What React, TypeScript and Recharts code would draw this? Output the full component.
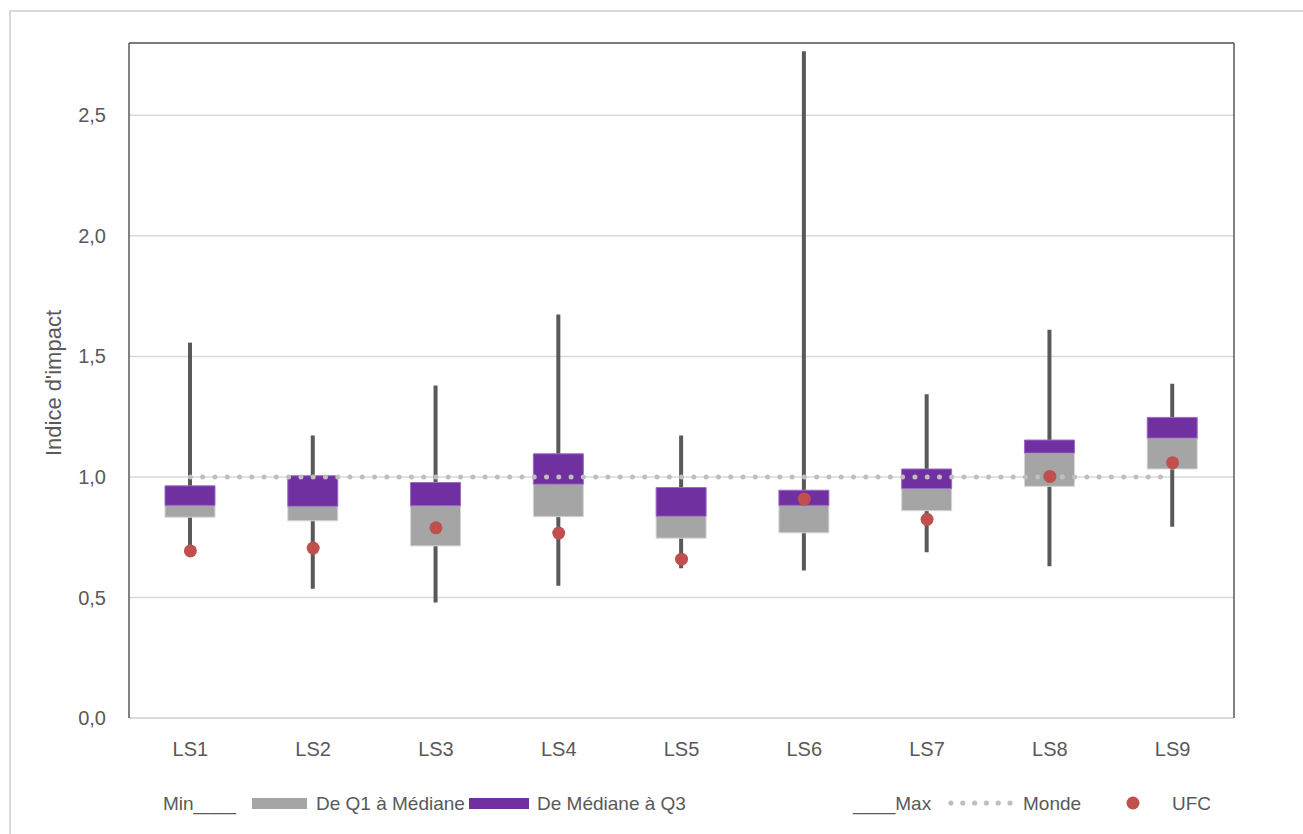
import React from 'react';
import {
  ComposedChart, Bar, Line, XAxis, YAxis, CartesianGrid, ReferenceLine,
} from 'recharts';

const categories = ['LS1', 'LS2', 'LS3', 'LS4', 'LS5', 'LS6', 'LS7', 'LS8', 'LS9'];
const minVals = [0.69, 0.536, 0.479, 0.549, 0.621, 0.612, 0.688, 0.63, 0.793];
const q1Vals = [0.833, 0.818, 0.714, 0.835, 0.746, 0.768, 0.86, 0.961, 1.033];
const medianVals = [0.882, 0.878, 0.88, 0.97, 0.837, 0.882, 0.952, 1.099, 1.161];
const q3Vals = [0.963, 1.005, 0.977, 1.096, 0.956, 0.945, 1.033, 1.153, 1.247];
const maxVals = [1.557, 1.172, 1.379, 1.674, 1.172, 2.766, 1.343, 1.611, 1.387];
const mondeVals = [1, 1, 1, 1, 1, 1, 1, 1, 1];
const ufcVals = [0.693, 0.705, 0.789, 0.767, 0.659, 0.908, 0.824, 1.002, 1.059];
const yTicks = [0, 0.5, 1, 1.5, 2, 2.5];

const data = categories.map((name, i) => ({
  name,
  whisker: [minVals[i], maxVals[i]],
  base: q1Vals[i],
  lowBox: medianVals[i] - q1Vals[i],
  highBox: q3Vals[i] - medianVals[i],
  monde: mondeVals[i],
  ufc: ufcVals[i],
}));

const FONT = '"Liberation Sans", Arial, sans-serif';
const TXT = '#595959';

export default function App() {
  return (
    <div style={{ position: 'absolute', left: 0, top: 0, width: 1303, height: 834, background: '#fff', overflow: 'hidden' }}>
      <div style={{ position: 'absolute', left: 9, top: 10, width: 1400, height: 900, borderLeft: '2px solid #D9D9D9', borderTop: '2px solid #D9D9D9' }} />
      <div style={{ position: 'absolute', left: 0, top: 0 }}>
        <ComposedChart
          width={1303}
          height={834}
          data={data}
          margin={{ top: 43, right: 68, bottom: 66, left: 9 }}
        >
          <CartesianGrid vertical={false} stroke="#D9D9D9" strokeWidth={1.5} />
          <XAxis
            dataKey="name"
            type="category"
            interval={0}
            height={50}
            tickSize={0}
            tickMargin={24}
            axisLine={{ stroke: '#D9D9D9', strokeWidth: 1.5 }}
            tickLine={false}
            tick={{ fill: TXT, fontSize: 20, fontFamily: FONT }}
          />
          <XAxis xAxisId="w" dataKey="name" type="category" hide />
          <YAxis
            domain={[0, 2.8]}
            ticks={yTicks}
            interval={0}
            width={120}
            tickSize={0}
            tickMargin={23}
            tickFormatter={(v: number) => v.toFixed(1).replace('.', ',')}
            axisLine={{ stroke: '#595959', strokeWidth: 1.5 }}
            tickLine={false}
            tick={{ fill: TXT, fontSize: 20, fontFamily: FONT }}
          />
          <YAxis
            yAxisId="r"
            orientation="right"
            domain={[0, 2.8]}
            width={1}
            tick={false}
            tickLine={false}
            axisLine={{ stroke: '#595959', strokeWidth: 1.5 }}
          />
          <ReferenceLine y={2.8} stroke="#595959" strokeWidth={1.5} />
          <Bar xAxisId="w" dataKey="whisker" barSize={4} fill="#595959" isAnimationActive={false} />
          <Bar dataKey="base" stackId="box" barSize={50} fill="transparent" isAnimationActive={false} />
          <Bar dataKey="lowBox" stackId="box" barSize={50} fill="#A5A5A5" stroke="#D6D6D6" strokeWidth={1} isAnimationActive={false} />
          <Bar dataKey="highBox" stackId="box" barSize={50} fill="#7030A0" stroke="#9B6DC2" strokeWidth={1} isAnimationActive={false} />
          <Line
            dataKey="monde"
            stroke="#BFBFBF"
            strokeWidth={5}
            strokeDasharray="0 12.28"
            strokeLinecap="round"
            dot={false}
            activeDot={false}
            isAnimationActive={false}
          />
          <Line
            dataKey="ufc"
            stroke="none"
            strokeWidth={0}
            dot={{ r: 6.5, fill: '#C0504D', stroke: 'none' }}
            activeDot={false}
            isAnimationActive={false}
          />
        </ComposedChart>
      </div>
      <svg width={1303} height={834} style={{ position: 'absolute', left: 0, top: 0, pointerEvents: 'none' }}>
        <text
          transform="rotate(-90)"
          x={-383}
          y={61}
          textAnchor="middle"
          fill={TXT}
          fontSize={22}
          fontFamily={FONT}
        >
          Indice d'impact
        </text>
        <g fill={TXT} fontSize={19} fontFamily={FONT}>
          <text x={163} y={810}>Min____</text>
          <rect x={252} y={798} width={55} height={11} fill="#A5A5A5" />
          <text x={316} y={810}>De Q1 à Médiane</text>
          <rect x={469} y={798} width={60} height={11} fill="#7030A0" />
          <text x={537} y={810}>De Médiane à Q3</text>
          <text x={853} y={810}>____Max</text>
          {[0, 1, 2, 3, 4, 5].map((k) => (
            <circle key={k} cx={951 + k * 11.8} cy={803} r={2.6} fill="#BFBFBF" />
          ))}
          <text x={1023} y={810}>Monde</text>
          <circle cx={1133} cy={803} r={6.5} fill="#C0504D" />
          <text x={1172} y={810}>UFC</text>
        </g>
      </svg>
    </div>
  );
}
